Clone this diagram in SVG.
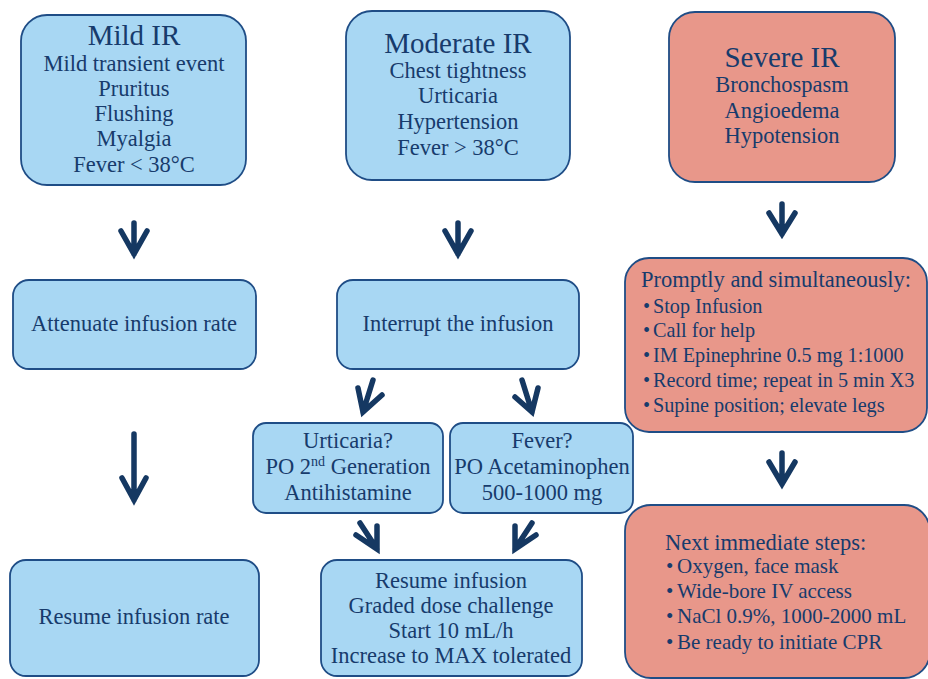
<svg xmlns="http://www.w3.org/2000/svg" width="928" height="679" viewBox="0 0 928 679">
<style>
.b{fill:#a8d7f3;stroke:#1f4d86;stroke-width:1.8}
.r{fill:#e8978a;stroke:#1f4d86;stroke-width:1.8}
text{font-family:"Liberation Serif","DejaVu Serif",serif;fill:#173b6c;font-size:22.5px}
.c{text-anchor:middle}
.t{font-size:29px}
.p{font-size:20.2px}
.n{font-size:21px}
.a{fill:none;stroke:#153862;stroke-width:5.5;stroke-linecap:round;stroke-linejoin:miter}
</style>
<rect width="928" height="679" fill="#ffffff"/>
<g id="mild">
<rect class="b" x="21" y="15" width="225" height="170" rx="26"/>
<text class="c t" x="134" y="45">Mild IR</text>
<text class="c" x="134" y="71">Mild transient event</text>
<text class="c" x="134" y="96">Pruritus</text>
<text class="c" x="134" y="121">Flushing</text>
<text class="c" x="134" y="146">Myalgia</text>
<text class="c" x="134" y="172">Fever &lt; 38°C</text>
</g>
<g id="moderate">
<rect class="b" x="346" y="11" width="224" height="169" rx="26"/>
<text class="c t" x="458" y="53">Moderate IR</text>
<text class="c" x="458" y="78">Chest tightness</text>
<text class="c" x="458" y="103">Urticaria</text>
<text class="c" x="458" y="129">Hypertension</text>
<text class="c" x="458" y="155">Fever &gt; 38°C</text>
</g>
<g id="severe">
<rect class="r" x="669" y="12" width="226" height="170" rx="26"/>
<text class="c t" x="782" y="67">Severe IR</text>
<text class="c" x="782" y="92">Bronchospasm</text>
<text class="c" x="782" y="118">Angioedema</text>
<text class="c" x="782" y="143">Hypotension</text>
</g>
<g id="attenuate">
<rect class="b" x="13" y="280" width="243" height="89" rx="16"/>
<text class="c" x="134" y="331">Attenuate infusion rate</text>
</g>
<g id="interrupt">
<rect class="b" x="337" y="280" width="242" height="89" rx="16"/>
<text class="c" x="458" y="331">Interrupt the infusion</text>
</g>
<g id="promptly">
<rect class="r" x="625" y="258" width="302" height="174" rx="24"/>
<text x="641" y="287">Promptly and simultaneously:</text>
<text class="p" x="643" y="313">•<tspan x="653">Stop Infusion</tspan></text>
<text class="p" x="643" y="337">•<tspan x="653">Call for help</tspan></text>
<text class="p" x="643" y="362">•<tspan x="653">IM Epinephrine 0.5 mg 1:1000</tspan></text>
<text class="p" x="643" y="387">•<tspan x="653">Record time; repeat in 5 min X3</tspan></text>
<text class="p" x="643" y="412">•<tspan x="653">Supine position; elevate legs</tspan></text>
</g>
<g id="urticaria">
<rect class="b" x="253" y="423" width="190" height="90" rx="13"/>
<text class="c" x="348" y="448">Urticaria?</text>
<text class="c" x="348" y="474">PO 2<tspan font-size="14" dy="-8">nd</tspan><tspan dy="8"> Generation</tspan></text>
<text class="c" x="348" y="500">Antihistamine</text>
</g>
<g id="fever">
<rect class="b" x="450" y="423" width="183" height="90" rx="13"/>
<text class="c" x="542" y="448">Fever?</text>
<text class="c" x="542" y="474">PO Acetaminophen</text>
<text class="c" x="542" y="500">500-1000 mg</text>
</g>
<g id="resume-rate">
<rect class="b" x="10" y="560" width="249" height="116" rx="16"/>
<text class="c" x="134" y="624">Resume infusion rate</text>
</g>
<g id="resume">
<rect class="b" x="321" y="560" width="261" height="116" rx="16"/>
<text class="c" x="451" y="588">Resume infusion</text>
<text class="c" x="451" y="613">Graded dose challenge</text>
<text class="c" x="451" y="638">Start 10 mL/h</text>
<text class="c" x="451" y="663">Increase to MAX tolerated</text>
</g>
<g id="next">
<rect class="r" x="625" y="505" width="305" height="173" rx="26"/>
<text x="665" y="550">Next immediate steps:</text>
<text class="n" x="666" y="573">•<tspan x="677">Oxygen, face mask</tspan></text>
<text class="n" x="666" y="598">•<tspan x="677">Wide-bore IV access</tspan></text>
<text class="n" x="666" y="623">•<tspan x="677">NaCl 0.9%, 1000-2000 mL</tspan></text>
<text class="n" x="666" y="649">•<tspan x="677">Be ready to initiate CPR</tspan></text>
</g>
<g id="connectors">
<path class="a" d="M134,223 V254 M121,231 L134,254 L147,231"/>
<path class="a" d="M458,223 V254 M445,231 L458,254 L471,231"/>
<path class="a" d="M782,204 V234 M769,213 L782,234 L795,213"/>
<path class="a" d="M134,434 V500 M122,478 L134,500 L146,478"/>
<path class="a" d="M782,453 V484 M769,462 L782,484 L795,462"/>
<path class="a" d="M373,380 L363,412 M358,388 L363,412 L382,395"/>
<path class="a" d="M522,380 L532,412 M515,397 L532,412 L538,388"/>
<path class="a" d="M360,523 L377,549 M377,526 L377,549 L356,535"/>
<path class="a" d="M532,523 L515,549 M515,526 L515,549 L536,535"/>
</g>
</svg>
